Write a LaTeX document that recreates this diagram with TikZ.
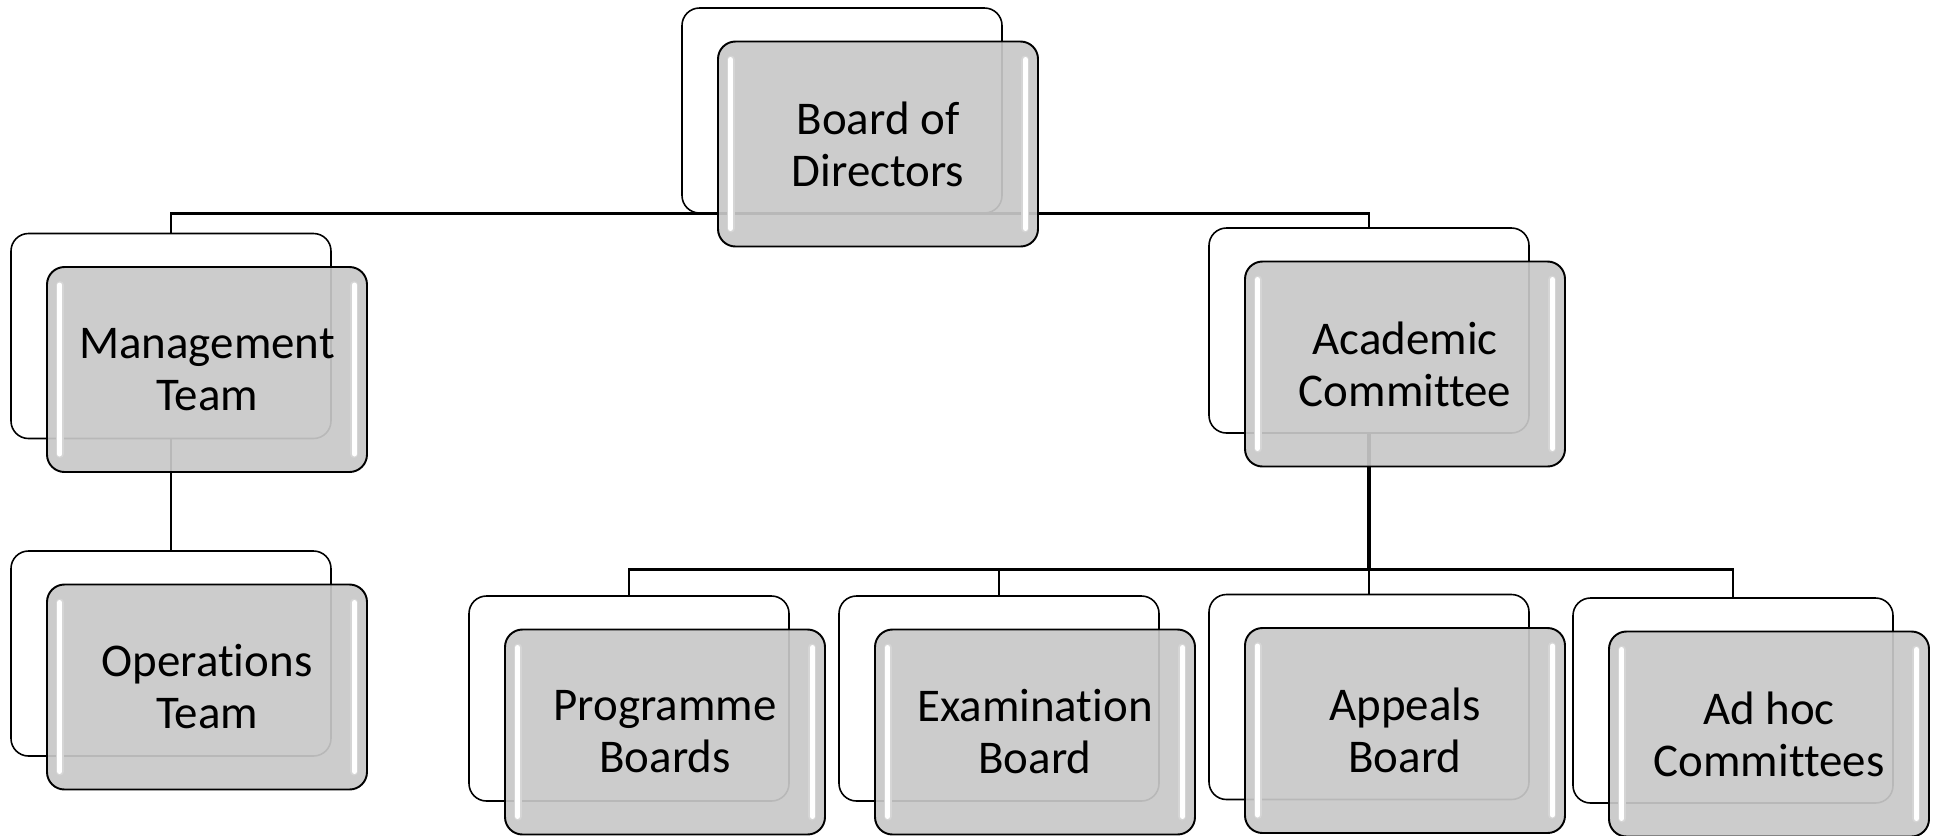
\documentclass[tikz,border=0pt]{standalone}
\usepackage{xcolor}
\usepackage{fontspec}
\setmainfont{Carlito}[Ligatures=CommonOff]
\usepackage{tikz}
\usetikzlibrary{positioning}

\definecolor{boxgray}{RGB}{200,200,200}
\definecolor{glossgray}{RGB}{150,150,150}

\begin{document}
\begin{tikzpicture}[
  back/.style={rectangle, rounded corners=0.35cm, minimum width=6.4cm, minimum height=4.1cm, inner sep=0pt, draw=black, line width=0.9pt, fill=white},
  unit/.style={rectangle, rounded corners=0.35cm, minimum width=6.4cm, minimum height=4.1cm, inner sep=0pt, draw=black, line width=1.1pt, fill=boxgray, fill opacity=0.92, text opacity=1, align=center, font=\fontsize{26.7}{29.6}\selectfont, xshift=0.72cm, yshift=-0.67cm,
    path picture={
      \draw [glossgray!40, line width=0.16cm, line cap=round] ([xshift=0.26cm, yshift=-0.36cm]path picture bounding box.north west) -- ([xshift=0.26cm, yshift=0.36cm]path picture bounding box.south west);
      \draw [glossgray!40, line width=0.16cm, line cap=round] ([xshift=-0.26cm, yshift=-0.36cm]path picture bounding box.north east) -- ([xshift=-0.26cm, yshift=0.36cm]path picture bounding box.south east);
      \draw [white, line width=0.1cm, line cap=round] ([xshift=0.25cm, yshift=-0.36cm]path picture bounding box.north west) -- ([xshift=0.25cm, yshift=0.36cm]path picture bounding box.south west);
      \draw [white, line width=0.1cm, line cap=round] ([xshift=-0.25cm, yshift=-0.36cm]path picture bounding box.north east) -- ([xshift=-0.25cm, yshift=0.36cm]path picture bounding box.south east);
    }},
  link/.style={line width=1.5pt}
]
\useasboundingbox (0,0) rectangle (38.7,-16.7);

% Back panels
\node (boardback) [back] at (16.84,-2.21) {};
\node (mgmtback) [back] at (3.42,-6.72) {};
\node (opsback) [back] at (3.42,-13.07) {};
\node (acadback) [back] at (27.38,-6.61) {};
\node (progback) [back] at (12.58,-13.97) {};
\node (examback) [back] at (19.98,-13.97) {};
\node (appealsback) [back] at (27.38,-13.94) {};
\node (adhocback) [back] at (34.66,-14.01) {};

% Connections
\draw [link] (boardback.south) -| (mgmtback.north);
\draw [link] (boardback.south) -| (acadback.north);
\draw [link] (mgmtback.south) -- (opsback.north);
\draw [link, line width=1.8pt] (acadback.south) -- ++(0,-2.72) coordinate (acadbus);
\draw [link] (acadbus) -| (progback.north);
\draw [link] (acadbus) -| (examback.north);
\draw [link] (acadbus) -- (appealsback.north);
\draw [link] (acadbus) -| (adhocback.north);

% Front panels
\node (board) [unit] at (boardback) {Board of\\Directors};
\node (mgmt) [unit] at (mgmtback) {Management\\Team};
\node (ops) [unit] at (opsback) {Operations\\Team};
\node (acad) [unit] at (acadback) {Academic\\Committee};
\node (prog) [unit] at (progback) {Programme\\Boards};
\node (exam) [unit] at (examback) {Examination\\Board};
\node (appeals) [unit] at (appealsback) {Appeals\\Board};
\node (adhoc) [unit] at (adhocback) {Ad hoc\\Committees};

\end{tikzpicture}
\end{document}
